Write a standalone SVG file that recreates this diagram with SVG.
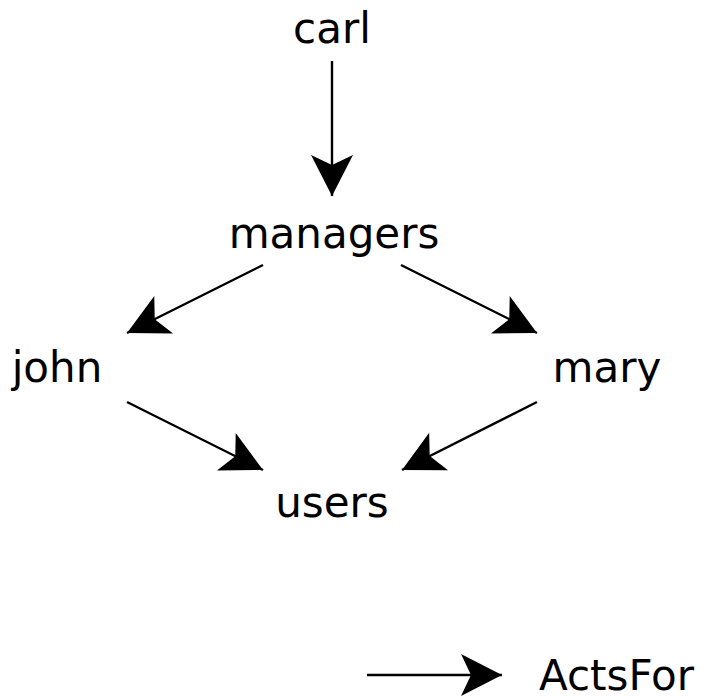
<svg xmlns="http://www.w3.org/2000/svg" width="703" height="696" viewBox="0 0 703 696">
  <style>
    .label { font-family: "DejaVu Sans", sans-serif; font-size: 42px; fill: #000; text-anchor: middle; }
    .edge { stroke: #000; stroke-width: 2.4; fill: none; marker-end: url(#head); }
  </style>
  <defs>
    <!-- barbed arrowhead, tip at the end of the line -->
    <marker id="head" markerUnits="userSpaceOnUse" viewBox="-45 -25 50 50" refX="0" refY="0" markerWidth="50" markerHeight="50" orient="auto" overflow="visible">
      <path d="M0,0 L-41,-21 L-31,0 L-41,21 Z" fill="#000"/>
    </marker>
  </defs>
  <rect width="703" height="696" fill="#fff"/>

  <g id="carl"><text class="label" x="332" y="43">carl</text></g>
  <g id="managers"><text class="label" x="334" y="248">managers</text></g>
  <g id="john"><text class="label" x="57" y="382">john</text></g>
  <g id="mary"><text class="label" x="607" y="382">mary</text></g>
  <g id="users"><text class="label" x="332" y="517">users</text></g>

  <g id="connectors">
    <line class="edge" x1="332" y1="61" x2="332" y2="196"/>
    <line class="edge" x1="263" y1="265" x2="127" y2="333"/>
    <line class="edge" x1="401" y1="265" x2="537" y2="333"/>
    <line class="edge" x1="127" y1="402" x2="263" y2="470"/>
    <line class="edge" x1="537" y1="402" x2="402" y2="470"/>
  </g>

  <g id="legend">
    <line class="edge" x1="367" y1="675" x2="502" y2="675"/>
    <text class="label" x="539" y="690" style="text-anchor:start">ActsFor</text>
  </g>
</svg>
